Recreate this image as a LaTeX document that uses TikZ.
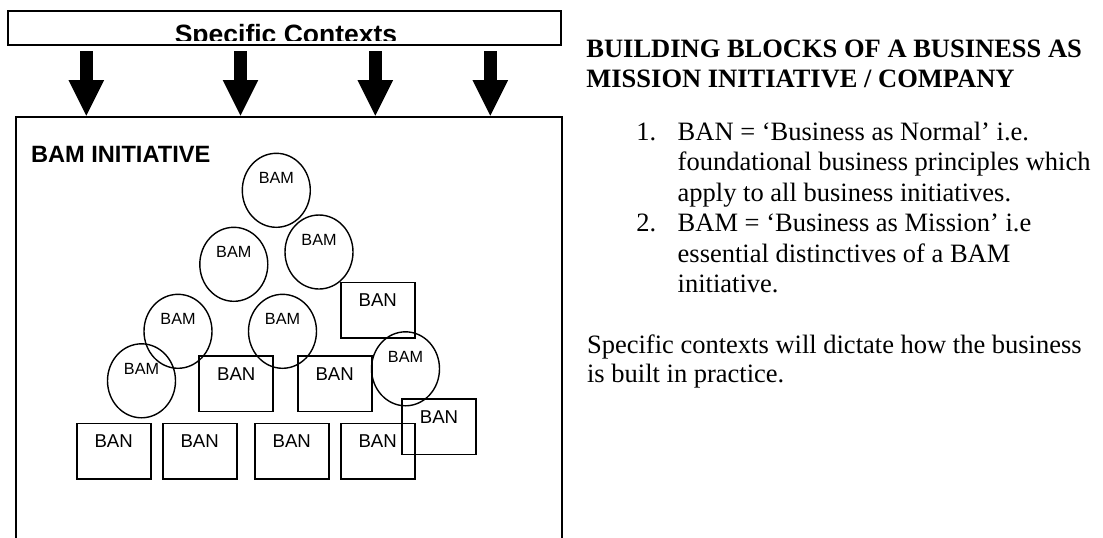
\documentclass[tikz,border=0pt]{standalone}
\usepackage{fontspec}
\setmainfont{Liberation Serif}
\newfontfamily\arialfont{Liberation Sans}
\usepackage{tikz}
\usetikzlibrary{shapes.geometric,arrows.meta}

\begin{document}
\begin{tikzpicture}[
    x=0.5pt,y=-0.5pt,
    ctxbox/.style={draw,line width=1.1pt,minimum width=276.35pt,minimum height=17pt,inner sep=0pt},
    initbox/.style={draw,line width=1pt,minimum width=273pt,minimum height=214.15pt,inner sep=0pt},
    bam/.style={draw,ellipse,line width=0.7pt,minimum width=34pt,minimum height=37pt,inner sep=0pt,
      font=\arialfont\fontsize{8.1}{9}\selectfont,text height=6pt,text depth=12.5pt},
    ban/.style={draw,rectangle,line width=0.85pt,minimum width=37pt,minimum height=27.65pt,inner sep=0pt,
      font=\arialfont\fontsize{9.3}{11}\selectfont,text height=6.7pt,text depth=10.4pt},
    blockarr/.style={line width=6.25pt,-{Triangle[width=17.85pt,length=17.85pt,line width=0pt]}},
    body/.style={font=\fontsize{13.25}{15.25}\selectfont,align=left,anchor=base west,inner sep=0pt}
  ]
    \clip (0,0) rectangle (1103,537);

    \node[ctxbox] (ctx) at (284.65,28) {};
    \begin{scope}
      \clip (ctx.north west) rectangle ([yshift=2.75pt]ctx.south east);
      \node[font=\arialfont\bfseries\fontsize{13.25}{15}\selectfont,anchor=base,inner sep=0pt] (ctxtext) at (286,43) {Specific Contexts};
    \end{scope}

    \node[initbox] (init) at (288.5,330.85) {};
    \node[font=\arialfont\bfseries\fontsize{11.8}{14}\selectfont,anchor=base west,inner sep=0pt] (inittitle) at (30.7,162.3) {BAM INITIATIVE};

    \foreach \x [count=\i] in {86.3,240.5,375.3,490.3} {
      \coordinate (ax\i) at (\x,0);
      \draw[blockarr] ([yshift=-2.5pt]ctx.south -| ax\i) -- (init.north -| ax\i);
    }

    \node[bam] (bam1) at (276.3,190.3) {BAM};
    \node[bam] (bam2) at (233.8,264.3) {BAM};
    \node[bam] (bam3) at (319,252) {BAM};
    \node[bam] (bam4) at (178,331.3) {BAM};
    \node[bam] (bam5) at (282.5,331.3) {BAM};
    \node[bam] (bam6) at (141.5,380.8) {BAM};
    \node[bam] (bam7) at (405.5,368.8) {BAM};

    \node[ban] (ban1) at (377.8,310) {BAN};
    \node[ban] (ban2) at (236.3,383.7) {BAN};
    \node[ban] (ban3) at (334.7,383.7) {BAN};
    \node[ban] (ban4) at (439,426.7) {BAN};
    \node[ban] (ban5) at (113.7,451.2) {BAN};
    \node[ban] (ban6) at (199.7,451.2) {BAN};
    \node[ban] (ban7) at (291.8,451.2) {BAN};
    \node[ban] (ban8) at (377.7,451.2) {BAN};

    % multi-line nodes sit on the baseline of their last line
    \node[body,font=\bfseries\fontsize{13.25}{14.75}\selectfont] (head) at (586,87.2) {BUILDING BLOCKS OF A BUSINESS AS\\MISSION INITIATIVE / COMPANY};

    \node[body] (num1) at (636,140) {1.};
    \node[body] (item1) at (677.3,201) {BAN = ‘Business as Normal’ i.e.\\foundational business principles which\\apply to all business initiatives.};
    \node[body] (num2) at (636,231.5) {2.};
    \node[body] (item2) at (677.3,292.5) {BAM = ‘Business as Mission’ i.e\\essential distinctives of a BAM\\initiative.};

    \node[body,font=\fontsize{13.25}{14.75}\selectfont] (note) at (586.7,382.8) {Specific contexts will dictate how the business\\is built in practice.};
  \end{tikzpicture}
\end{document}
